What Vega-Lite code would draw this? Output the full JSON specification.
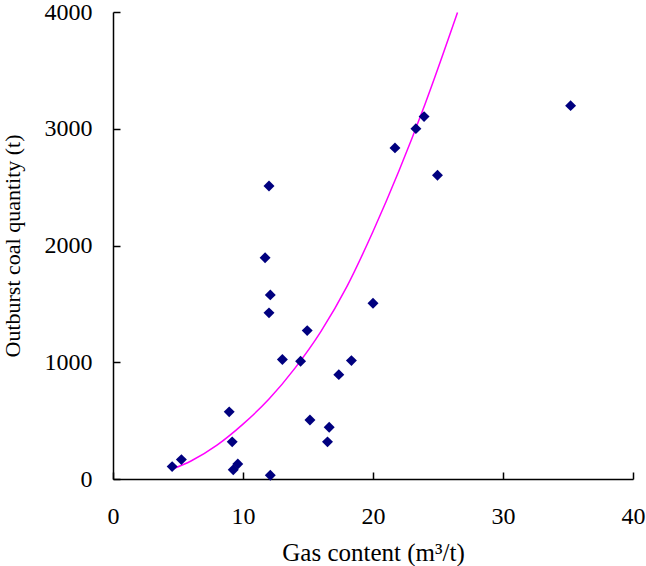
{
  "$schema": "https://vega.github.io/schema/vega-lite/v6.json",
  "width": 520,
  "height": 467,
  "autosize": {"type": "none"},
  "padding": {"left": 113, "top": 12, "right": 13, "bottom": 87},
  "background": "white",
  "config": {
    "view": {"stroke": null},
    "font": "Liberation Serif",
    "axis": {
      "grid": false,
      "domainColor": "black",
      "domainWidth": 1.5,
      "tickColor": "black",
      "tickWidth": 1.5,
      "tickSize": -7,
      "labelFont": "Liberation Serif",
      "labelFontSize": 24,
      "labelColor": "black",
      "labelFlush": false,
      "labelOverlap": false,
      "format": "d",
      "titleFont": "Liberation Serif",
      "titleFontWeight": "normal",
      "titleColor": "black"
    }
  },
  "datasets": {
    "points": [
      {"gas": 4.55, "coal": 106},
      {"gas": 5.26, "coal": 166},
      {"gas": 8.94, "coal": 575},
      {"gas": 9.17, "coal": 318},
      {"gas": 9.25, "coal": 80},
      {"gas": 9.6, "coal": 129},
      {"gas": 11.7, "coal": 1895},
      {"gas": 12.0, "coal": 2510},
      {"gas": 12.1, "coal": 1577},
      {"gas": 12.0, "coal": 1423},
      {"gas": 12.1, "coal": 32},
      {"gas": 13.03, "coal": 1023},
      {"gas": 14.43, "coal": 1008},
      {"gas": 14.94, "coal": 1271},
      {"gas": 15.15, "coal": 506},
      {"gas": 16.5, "coal": 318},
      {"gas": 16.63, "coal": 443},
      {"gas": 17.37, "coal": 894},
      {"gas": 18.34, "coal": 1014},
      {"gas": 20.0, "coal": 1505},
      {"gas": 21.69, "coal": 2836},
      {"gas": 23.3, "coal": 3001},
      {"gas": 23.93, "coal": 3104},
      {"gas": 24.96, "coal": 2601},
      {"gas": 35.2, "coal": 3198}
    ],
    "curve": [
      {"gas": 4.6, "coal": 86},
      {"gas": 6, "coal": 154},
      {"gas": 8, "coal": 290},
      {"gas": 10, "coal": 470},
      {"gas": 12, "coal": 685},
      {"gas": 14, "coal": 950},
      {"gas": 16, "coal": 1265},
      {"gas": 18, "coal": 1650},
      {"gas": 20, "coal": 2120},
      {"gas": 22, "coal": 2640},
      {"gas": 24, "coal": 3210},
      {"gas": 26.5, "coal": 3995}
    ]
  },
  "encoding": {
    "x": {
      "field": "gas",
      "type": "quantitative",
      "scale": {"domain": [0, 40], "nice": false, "zero": false},
      "axis": {"values": [0, 10, 20, 30, 40], "title": "Gas content (m³/t)", "titleFontSize": 25, "labelPadding": 32, "titlePadding": 12}
    },
    "y": {
      "field": "coal",
      "type": "quantitative",
      "scale": {"domain": [0, 4000], "nice": false},
      "axis": {"values": [0, 1000, 2000, 3000, 4000], "title": "Outburst coal quantity (t)", "titleFontSize": 22, "labelPadding": 28, "titlePadding": 20}
    }
  },
  "layer": [
    {
      "data": {"name": "curve"},
      "mark": {"type": "line", "color": "#ff00ff", "strokeWidth": 1.5, "interpolate": "monotone", "clip": true}
    },
    {
      "data": {"name": "points"},
      "mark": {"type": "point", "shape": "diamond", "filled": true, "color": "#00007f", "size": 120, "opacity": 1}
    }
  ]
}
